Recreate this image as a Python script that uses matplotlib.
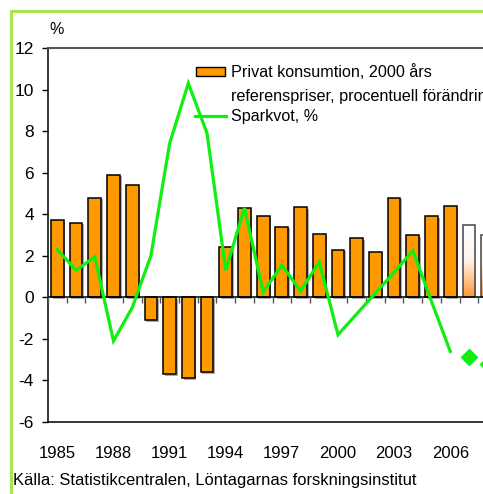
import numpy as np
import matplotlib
matplotlib.use("Agg")
import matplotlib.pyplot as plt
import matplotlib.patheffects as pe
from matplotlib.patches import Rectangle
from matplotlib.lines import Line2D

plt.rcParams['font.family'] = ['Liberation Sans', 'DejaVu Sans']

# data
years = list(range(1985, 2009))
konsumtion = [3.7, 3.6, 4.8, 5.9, 5.4, -1.1, -3.7, -3.9, -3.6, 2.4, 4.3, 3.9,
              3.4, 4.35, 3.05, 2.3, 2.85, 2.2, 4.8, 3.0, 3.9, 4.4, 3.5, 3.0]
sparkvot = [2.3, 1.3, 1.95, -2.1, -0.5, 2.0, 7.4, 10.3, 7.9, 1.3, 4.3, 0.25,
            1.55, 0.3, 1.7, -1.8, -0.8, 0.2, 1.2, 2.25, -0.2, -2.6, -2.85, -3.2]
prognos = [False] * 22 + [True] * 2
year_labels = [str(y) for y in range(1985, 2007, 3)]
yticks = list(range(-6, 13, 2))

ORANGE = '#FF9900'
GREEN = '#11EE11'

fig = plt.figure(figsize=(4.83, 4.94), dpi=100)

# outer light green frame (cut off at right/bottom like the reference)
fig.patches.append(Rectangle((11 / 483, -0.1), 1.2, 1.1 - 11 / 494,
                             transform=fig.transFigure, fill=False,
                             edgecolor='#A6E84A', linewidth=2.2))

ax = fig.add_axes([48 / 483, 72 / 494, 449 / 483, 374 / 494])

x = np.arange(len(years))
bar_w = 0.68
shadow = [pe.SimplePatchShadow(offset=(1.2, -1.2), shadow_rgbFace='0.45', alpha=0.6),
          pe.Normal()]

for i, (v, p) in enumerate(zip(konsumtion, prognos)):
    if not p:
        b = ax.bar(x[i], v, width=bar_w, color=ORANGE, edgecolor='black',
                   linewidth=1.1, zorder=2)
        b[0].set_path_effects(shadow)
    else:
        # forecast bars: white-to-orange gradient
        b = ax.bar(x[i], v, width=bar_w, color='none', edgecolor='#444444',
                   linewidth=1.1, zorder=3)
        grad = np.linspace(0, 1, 64).reshape(-1, 1)
        cmap = matplotlib.colors.LinearSegmentedColormap.from_list(
            'g', ['#FFFFFF', '#FFF4EA', '#FF9933'])
        im = ax.imshow(grad, cmap=cmap, aspect='auto', origin='upper',
                       extent=(x[i] - bar_w / 2, x[i] + bar_w / 2, 0, v), zorder=2)
        im.set_clip_path(b[0])

# Sparkvot: actual values as a line, forecasts as diamonds
act_x = [xi for xi, p in zip(x, prognos) if not p]
act_y = [s for s, p in zip(sparkvot, prognos) if not p]
fc_x = [xi for xi, p in zip(x, prognos) if p]
fc_y = [s for s, p in zip(sparkvot, prognos) if p]
ax.plot(act_x, act_y, color=GREEN, linewidth=2.3, zorder=4, solid_joinstyle='miter')
ax.plot(fc_x, fc_y, linestyle='none', marker='D', markersize=8,
        color=GREEN, zorder=4)

# zero line with category ticks
ax.axhline(0, color='black', linewidth=1.1, zorder=3)
ax.vlines(np.arange(len(years)) - 0.5, -0.28, 0, color='#555555', linewidth=1, zorder=3)

ax.set_xlim(-0.5, len(years) - 0.5)
ax.set_ylim(-6, 12)
ax.set_yticks(yticks)
ax.set_yticklabels([str(t) for t in yticks])
ax.set_xticks(x[::3])
ax.set_xticklabels(year_labels)
ax.tick_params(axis='y', length=4, width=1, pad=6, labelsize=12.5)
ax.tick_params(axis='x', length=0, pad=17, labelsize=12)

ax.spines['right'].set_visible(False)
ax.spines['top'].set_color('#555555')
ax.spines['top'].set_linewidth(1.5)
ax.spines['left'].set_linewidth(1.1)
ax.spines['bottom'].set_linewidth(1.1)

fig.text(57 / 483, 1 - 30 / 494, '%', fontsize=11.5, ha='center', va='center')

# legend drawn by hand to copy the overlapping Excel layout
fig.patches.append(Rectangle((196 / 483, 1 - 76 / 494), 29 / 483, 9 / 494,
                             transform=fig.transFigure, facecolor=ORANGE,
                             edgecolor='black', linewidth=1))
fig.text(231 / 483, 1 - 72 / 494, 'Privat konsumtion, 2000 års',
         fontsize=11.6, va='center', ha='left')
fig.text(231 / 483, 1 - 97 / 494, 'referenspriser, procentuell förändring',
         fontsize=11.6, va='center', ha='left')
fig.lines.append(Line2D([195 / 483, 226 / 483], [1 - 116 / 494, 1 - 116 / 494],
                        transform=fig.transFigure, color=GREEN, linewidth=2.3))
fig.text(231 / 483, 1 - 117 / 494, 'Sparkvot, %', fontsize=11.6, va='center', ha='left')

fig.text(13 / 483, 1 - 480 / 494,
         'Källa: Statistikcentralen, Löntagarnas forskningsinstitut',
         fontsize=11.85, va='center', ha='left')

fig.savefig('out.png', dpi=100)
